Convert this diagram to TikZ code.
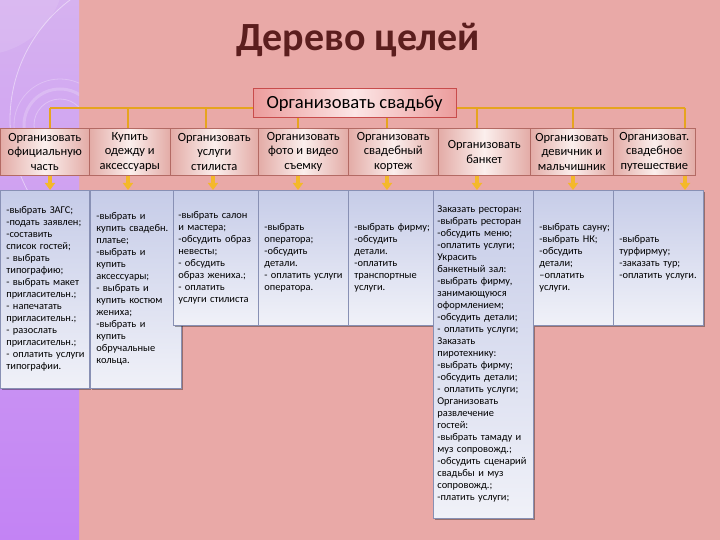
\documentclass[tikz,border=0pt]{standalone}
\usepackage{fontspec}
\setmainfont{Carlito}
\usetikzlibrary{shadows,arrows.meta}
\definecolor{bgpink}{HTML}{E9A9A7}
\definecolor{striptop}{HTML}{D6B2F0}
\definecolor{stripbot}{HTML}{C383F4}
\definecolor{titlecol}{HTML}{5B1E1E}
\definecolor{rootside}{HTML}{EC9C9C}
\definecolor{rootmid}{HTML}{FCE6E6}
\definecolor{rootedge}{HTML}{C84C4C}
\definecolor{buscol}{HTML}{E6A41F}
\definecolor{childside}{HTML}{E3ABA6}
\definecolor{childmid}{HTML}{FBEFED}
\definecolor{childedge}{HTML}{B36A64}
\definecolor{lowtop}{HTML}{C6CCE8}
\definecolor{lowbot}{HTML}{F0F1F8}
\definecolor{lowedge}{HTML}{8890B4}
\definecolor{arrfill}{HTML}{F4B82A}
\tikzset{
  titletext/.style={font=\fontsize{40}{44}\selectfont\bfseries, text=titlecol},
  rootbox/.style={draw=rootedge, line width=1pt, left color=rootside, right color=rootside, middle color=rootmid,
    minimum width=203pt, minimum height=29pt, inner sep=1pt, font=\fontsize{18.6}{20}\selectfont},
  childbox/.style={draw=childedge, line width=0.6pt, left color=childside, right color=childside, middle color=childmid,
    minimum height=47pt, inner sep=1pt, align=center, anchor=north west, font=\fontsize{12.5}{14.5}\selectfont},
  lowbox/.style={draw=lowedge, line width=0.7pt, top color=lowtop, bottom color=lowbot,
    drop shadow={shadow xshift=1.5pt, shadow yshift=-1.5pt, fill=black, opacity=0.35},
    inner xsep=6pt, inner ysep=0pt, align=left, anchor=north west, font=\fontsize{10.4}{12}\selectfont},
  bus/.style={draw=buscol, line width=2.2pt},
  downarrow/.style={draw=arrfill, line width=3.5pt, -{Triangle[width=10pt,length=7pt]}},
}
\newcommand{\lines}[1]{\begin{tabular}{@{}l@{}}#1\end{tabular}}
\begin{document}
\begin{tikzpicture}[x=1pt,y=-1pt]
\useasboundingbox (0,0) rectangle (720,540);
\fill[bgpink] (0,0) rectangle (720,540);
% left purple strip
\shade[top color=striptop, bottom color=stripbot] (0,0) rectangle (79,540);
\begin{scope}
  \clip (0,0) rectangle (79,540);
  \fill[white, opacity=0.10] (-20,-30) circle (85);
  \draw[white, opacity=0.45, line width=0.8pt] (160,120) circle (150);
  \draw[white, opacity=0.30, line width=0.8pt] (60,125) circle (26);
  \draw[white, opacity=0.20, line width=3pt] (60,125) circle (36);
  \draw[white, opacity=0.25, line width=0.8pt] (60,125) circle (46);
\end{scope}
% title
\node[titletext] (title) at (358,40) {Дерево целей};
% second level
\node[childbox, minimum width=89pt] (c1) at (0,128) {Организовать\\официальную\\часть};
\node[childbox, minimum width=81pt] (c2) at (89,128) {Купить\\одежду и\\аксессуары};
\node[childbox, minimum width=88pt] (c3) at (170,128) {Организовать\\услуги\\стилиста};
\node[childbox, minimum width=90pt] (c4) at (258,128) {Организовать\\фото и видео\\съемку};
\node[childbox, minimum width=90pt] (c5) at (348,128) {Организовать\\свадебный\\кортеж};
\node[childbox, minimum width=92pt] (c6) at (438,128) {Организовать\\банкет};
\node[childbox, minimum width=83pt] (c7) at (530,128) {Организовать\\девичник и\\мальчишник};
\node[childbox, minimum width=82pt] (c8) at (613,128) {Организоват.\\свадебное\\путешествие};
% bus
\coordinate (b1) at (50,108);
\coordinate (b2) at (128,108);
\coordinate (b3) at (206,108);
\coordinate (b6) at (477,108);
\coordinate (b7) at (573,108);
\coordinate (b8) at (685,108);
\draw[bus] (b1) -- (b8);
\draw[bus] (b1) -- (b1 |- c1.north);
\draw[bus] (b2) -- (b2 |- c2.north);
\draw[bus] (b3) -- (b3 |- c3.north);
\draw[bus] (b6) -- (b6 |- c6.north);
\draw[bus] (b7) -- (b7 |- c7.north);
\draw[bus] (b8) -- (b8 |- c8.north);
% root
\node[rootbox] (root) at (354.5,103.5) {Организовать свадьбу};
\coordinate (r4) at (298,0);
\coordinate (r5) at (387,0);
\draw[bus] (r4 |- root.south) -- (r4 |- c4.north);
\draw[bus] (r5 |- root.south) -- (r5 |- c5.north);
% third level
\node[lowbox, minimum width=89pt, minimum height=198pt, text width=77pt] (A) at (0,190) {\lines{-выбрать ЗАГС;\\-подать заявлен;\\-составить\\список гостей;\\- выбрать\\типографию;\\- выбрать макет\\пригласительн.;\\- напечатать\\пригласительн.;\\- разослать\\пригласительн.;\\- оплатить услуги\\типографии.}};
\node[lowbox, minimum width=91pt, minimum height=198pt, text width=79pt] (B) at (90,190) {\lines{-выбрать и\\купить свадебн.\\платье;\\-выбрать и\\купить\\аксессуары;\\- выбрать и\\купить костюм\\жениха;\\-выбрать и\\купить\\обручальные\\кольца.}};
\node[lowbox, minimum width=85pt, minimum height=135pt, text width=75pt, inner xsep=5pt] (C) at (173,190) {\lines{-выбрать салон\\и мастера;\\-обсудить образ\\невесты;\\- обсудить\\образ жениха.;\\- оплатить\\услуги стилиста}};
\node[lowbox, minimum width=90pt, minimum height=135pt, text width=78pt] (D) at (258,190) {\lines{-выбрать\\оператора;\\-обсудить\\детали.\\- оплатить услуги\\оператора.}};
\node[lowbox, minimum width=85pt, minimum height=135pt, text width=73pt] (E) at (348,190) {\lines{-выбрать фирму;\\-обсудить\\детали.\\-оплатить\\транспортные\\услуги.}};
\node[lowbox, minimum width=100pt, minimum height=328pt, text width=92pt, inner xsep=4pt] (F) at (433,190) {\lines{Заказать ресторан:\\-выбрать ресторан\\-обсудить меню;\\-оплатить услуги;\\Украсить\\банкетный зал:\\-выбрать фирму,\\занимающуюся\\оформлением;\\-обсудить детали;\\- оплатить услуги;\\Заказать\\пиротехнику:\\-выбрать фирму;\\-обсудить детали;\\- оплатить услуги;\\Организовать\\развлечение\\гостей:\\-выбрать тамаду и\\муз сопровожд.;\\-обсудить сценарий\\свадьбы и муз\\сопровожд.;\\-платить услуги;}};
\node[lowbox, minimum width=80pt, minimum height=135pt, text width=68pt] (G) at (533,190) {\lines{-выбрать сауну;\\-выбрать НК;\\-обсудить\\детали;\\--оплатить\\услуги.}};
\node[lowbox, minimum width=90pt, minimum height=135pt, text width=78pt] (H) at (613,190) {\lines{-выбрать\\турфирмуу;\\-заказать тур;\\-оплатить услуги.}};
% arrows
\coordinate (a1) at (50,0);
\coordinate (a2) at (128,0);
\coordinate (a3) at (213,0);
\coordinate (a4) at (298,0);
\coordinate (a5) at (387,0);
\coordinate (a6) at (477,0);
\coordinate (a7) at (573,0);
\coordinate (a8) at (685,0);
\draw[downarrow] (a1 |- c1.south) -- (a1 |- A.north);
\draw[downarrow] (a2 |- c2.south) -- (a2 |- B.north);
\draw[downarrow] (a3 |- c3.south) -- (a3 |- C.north);
\draw[downarrow] (a4 |- c4.south) -- (a4 |- D.north);
\draw[downarrow] (a5 |- c5.south) -- (a5 |- E.north);
\draw[downarrow] (a6 |- c6.south) -- (a6 |- F.north);
\draw[downarrow] (a7 |- c7.south) -- (a7 |- G.north);
\draw[downarrow] (a8 |- c8.south) -- (a8 |- H.north);
\end{tikzpicture}
\end{document}
